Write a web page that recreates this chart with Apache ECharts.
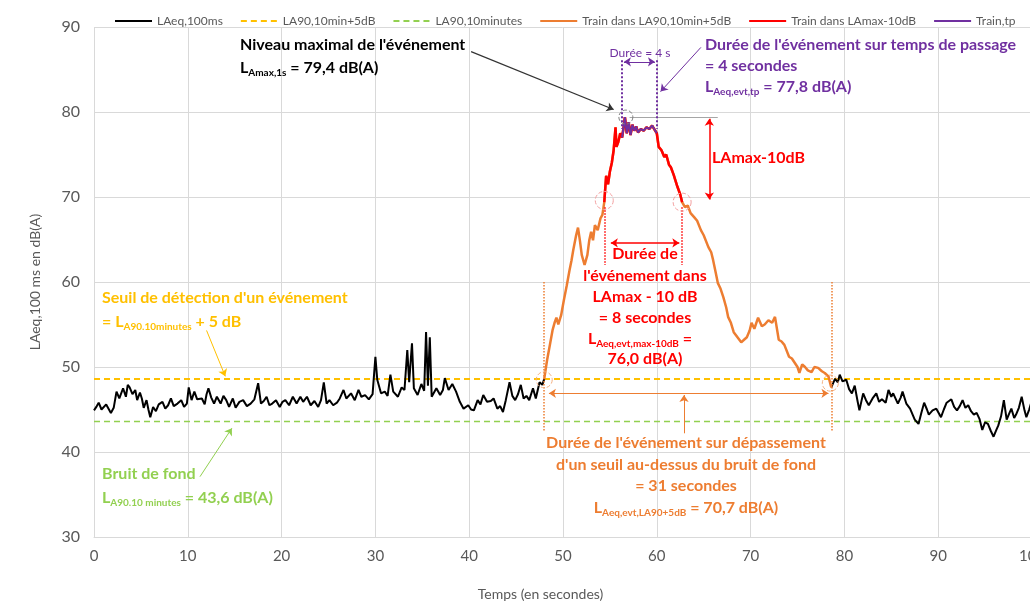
<!DOCTYPE html>
<html lang="fr">
<head>
<meta charset="UTF-8">
<title>Passage de train</title>
<style>
  html, body { margin: 0; padding: 0; background: #fff; }
  #main { width: 1030px; height: 603px; }
</style>
</head>
<body>
<div id="main"></div>
<script src="https://cdn.jsdelivr.net/npm/echarts@6/dist/echarts.min.js"></script>
<script>
// niveaux LAeq,100ms : [temps (s), dB(A)]
const fondAvant = [
  [0,44.9],[0.3,45.4],[0.5,45.8],[0.8,45.0],[1.0,44.9],[1.3,45.6],[1.5,45.5],[1.8,44.6],[2.1,45.2],[2.4,47.1],
  [2.7,46.3],[3.1,47.5],[3.4,46.5],[3.6,47.9],[3.8,47.6],[4.1,46.8],[4.4,47.3],[4.6,46.1],[4.9,47.0],[5.1,46.3],
  [5.3,45.2],[5.6,46.1],[5.8,45.0],[6.0,44.1],[6.3,45.3],[6.6,44.8],[6.9,45.6],[7.3,45.9],[7.6,45.1],[7.9,45.5],
  [8.2,46.3],[8.5,45.4],[8.9,45.7],[9.3,46.1],[9.6,45.3],[9.9,45.7],[10.1,47.6],[10.4,46.1],[10.7,47.1],[11.0,46.2],
  [11.5,46.3],[11.8,45.6],[12.0,46.8],[12.2,47.5],[12.5,46.4],[12.8,45.7],[13.1,46.5],[13.5,45.7],[13.8,46.6],[14.1,46.1],
  [14.4,45.3],[14.8,46.3],[15.1,45.2],[15.5,45.9],[15.9,46.1],[16.3,45.4],[16.7,45.7],[17.1,46.2],[17.5,48.1],[17.8,45.7],
  [18.1,46.0],[18.4,46.5],[18.7,45.5],[19.0,45.7],[19.4,46.1],[19.8,45.3],[20.1,45.9],[20.4,46.1],[20.8,45.5],[21.2,46.5],
  [21.6,45.7],[22.0,46.5],[22.3,45.9],[22.7,46.5],[23.1,45.5],[23.5,46.0],[23.9,45.3],[24.2,46.1],[24.5,48.2],[24.8,45.7],
  [25.1,46.1],[25.5,45.5],[25.9,45.8],[26.2,46.3],[26.6,47.3],[26.9,46.3],[27.1,46.5],[27.4,46.9],[27.8,46.1],[28.2,47.3],
  [28.5,46.5],[28.9,46.7],[29.3,46.2],[29.7,46.8],[30.0,51.2],[30.2,48.5],[30.6,46.9],[31.0,47.1],[31.3,46.6],[31.6,49.1],
  [31.9,47.1],[32.4,46.5],[32.8,47.6],[33.1,47.3],[33.4,52.0],[33.6,48.2],[33.9,52.8],[34.1,47.5],[34.5,46.7],[34.9,48.0],
  [35.2,47.2],[35.4,54.1],[35.6,47.8],[35.8,53.5],[36.0,46.5],[36.5,47.5],[36.9,46.7],[37.2,47.3],[37.4,48.7],[37.8,47.3],
  [38.2,48.0],[38.6,47.1],[39.0,45.9],[39.4,45.1],[39.9,45.5],[40.2,45.0],[40.5,44.9],[40.9,46.1],[41.2,45.6],[41.5,46.7],
  [41.9,45.9],[42.3,46.0],[42.6,46.3],[43.0,45.1],[43.3,45.4],[43.6,44.7],[43.9,46.1],[44.3,48.2],[44.6,46.6],[44.9,46.1],
  [45.2,46.8],[45.5,47.9],[45.8,46.3],[46.1,46.6],[46.4,46.1],[46.8,47.5],[47.1,46.3],[47.5,48.2],[47.8,47.9],[48.0,48.6]
];

const evenement = [
  [48.0,48.6],[48.3,50.8],[48.6,52.6],[48.9,54.4],[49.1,55.2],[49.3,55.8],[49.5,55.0],[49.8,56.1],[50.1,57.9],[50.4,59.6],
  [50.7,61.4],[50.9,62.5],[51.1,63.8],[51.4,65.5],[51.6,66.4],[51.8,64.9],[52.0,63.2],[52.3,62.0],[52.6,63.2],[52.8,64.9],
  [53.0,65.9],[53.2,64.9],[53.4,66.7],[53.7,66.1],[54.0,67.5],[54.2,67.9],[54.4,69.4],[54.6,72.5],[54.8,71.5],[55.0,73.0],
  [55.2,74.0],[55.4,75.5],[55.6,78.2],[55.7,75.9],[55.9,76.5],[56.1,77.5],[56.3,77.0],[56.5,78.5],[56.6,79.4],[56.8,77.5],
  [57.0,78.8],[57.2,77.3],[57.4,78.5],[57.6,77.8],[57.8,78.3],[58.0,77.6],[58.3,78.0],[58.6,77.8],[58.9,78.2],[59.2,78.0],
  [59.5,78.4],[59.7,78.6],[60.0,77.5],[60.2,75.9],[60.5,75.5],[60.8,74.7],[61.0,75.0],[61.3,73.8],[61.5,73.5],[61.8,72.6],
  [62.0,72.8],[62.2,71.2],[62.5,70.3],[62.7,69.4],[63.0,68.8],[63.3,69.0],[63.6,68.1],[64.0,67.6],[64.3,67.2],[64.7,66.1],
  [65.0,65.5],[65.5,64.1],[65.8,63.5],[66.0,62.6],[66.3,61.0],[66.5,59.9],[66.8,59.2],[67.1,58.2],[67.4,57.0],[67.6,55.9],
  [67.9,55.2],[68.2,54.1],[68.6,53.5],[69.0,52.9],[69.3,53.2],[69.6,53.5],[69.9,54.3],[70.1,55.2],[70.4,54.5],[70.8,55.8],
  [71.2,54.8],[71.5,55.0],[71.9,55.5],[72.3,55.2],[72.6,55.9],[73.0,53.2],[73.3,53.0],[73.6,52.6],[74.1,51.2],[74.4,51.0],
  [74.7,50.5],[75.0,50.0],[75.2,49.3],[75.5,50.3],[75.8,50.0],[76.1,49.6],[76.5,49.4],[76.8,50.0],[77.2,49.9],[77.6,49.5],
  [77.9,49.3],[78.3,48.9],[78.6,47.6]
];

const fondApres = [
  [78.6,47.6],[79.0,48.6],[79.3,48.2],[79.5,49.1],[79.8,48.3],[80.2,48.5],[80.5,47.4],[80.8,46.9],[81.1,47.8],[81.4,46.0],
  [81.6,44.9],[82.0,46.9],[82.3,46.1],[82.6,45.5],[83.0,46.3],[83.4,46.9],[83.7,45.9],[84.0,46.2],[84.4,45.8],[84.7,47.3],
  [85.0,46.5],[85.2,46.9],[85.7,45.7],[86.0,46.4],[86.2,47.1],[86.6,45.7],[87.0,45.1],[87.5,43.8],[87.9,43.3],[88.2,44.6],
  [88.5,45.8],[88.8,45.0],[89.0,44.4],[89.4,44.9],[89.8,45.1],[90.3,44.1],[90.6,45.0],[90.9,45.8],[91.4,46.2],[91.7,45.3],
  [92.0,44.9],[92.3,45.4],[92.6,46.1],[92.9,45.2],[93.2,45.5],[93.5,44.8],[93.8,44.4],[94.1,44.6],[94.4,43.9],[94.7,42.6],
  [95.0,43.5],[95.3,43.3],[95.6,42.5],[95.9,41.8],[96.2,42.6],[96.4,43.1],[96.7,44.2],[97.0,46.1],[97.3,43.8],[97.6,44.6],
  [97.8,45.1],[98.1,44.0],[98.3,44.4],[98.6,45.2],[98.9,46.5],[99.2,44.9],[99.4,44.1],[99.7,45.0],[100,46.1]
];

// indicateurs
const LA90 = 43.6;
const seuil = LA90 + 5;
const LAmax = 79.4;
const debutEvt = 48.0, finEvt = 78.6;   // dépassement du seuil (31 s)
const debutMax = 54.4, finMax = 62.7;   // LAmax - 10 dB (8 s)
const debutTp = 56.3, finTp = 60.0;     // temps de passage (4 s)

const trainMax = evenement.filter(p => p[0] >= debutMax && p[0] <= finMax);
const trainTp = evenement.filter(p => p[0] >= debutTp && p[0] <= finTp);

const NOIR = '#000000', JAUNE = '#FFC000', VERT = '#92D050',
      ORANGE = '#ED7D31', ROUGE = '#FF0000', VIOLET = '#7030A0', GRIS = '#595959';

const myChart = echarts.init(document.getElementById('main'));

// segment d'annotation (flèche ou pointillé) en coordonnées de données
function trait(a, b, color, type, fleche, width) {
  return [
    { coord: a, symbol: fleche === 'both' ? 'arrow' : 'none', lineStyle: { color: color, type: type, width: width || 1 } },
    { coord: b, symbol: fleche ? 'arrow' : 'none' }
  ];
}
function cercle(c, color, size) {
  return { coord: c, symbol: 'circle', symbolSize: size,
    itemStyle: { color: 'rgba(0,0,0,0)', borderColor: color, borderWidth: 1, borderType: 'dashed' } };
}
function marqueurs(lignes, cercles) {
  return {
    markLine: { silent: true, animation: false, symbolSize: 7, label: { show: false }, emphasis: { disabled: true }, data: lignes },
    markPoint: { silent: true, animation: false, label: { show: false }, data: cercles || [] }
  };
}

// texte avec indices : {b|...}{s|...}
function note(x, y, str, color, size, align, weight) {
  size = size || 16;
  weight = weight || 'bold';
  const sub = Math.round(size * 0.62);
  return {
    type: 'text', x: x, y: y, z: 100, silent: true,
    style: {
      text: str, fill: color, fontFamily: 'Lato', fontSize: size, fontWeight: weight,
      textAlign: align || 'left', align: align || 'left',
      textVerticalAlign: 'middle', verticalAlign: 'middle',
      rich: {
        b: { fill: color, fontFamily: 'Lato', fontSize: size, fontWeight: weight, lineHeight: size + 4 },
        s: { fill: color, fontFamily: 'Lato', fontSize: sub, fontWeight: weight, lineHeight: size + 4,
             verticalAlign: 'bottom', padding: [Math.round(size * 0.55), 0, 0, 0] }
      }
    }
  };
}

const option = {
  animation: false,
  backgroundColor: '#fff',
  textStyle: { fontFamily: 'Lato' },
  grid: { left: 94, right: -2, top: 27, bottom: 66, outerBoundsMode: 'none', containLabel: false },
  legend: {
    top: 10, left: 109, itemWidth: 37, itemHeight: 10, itemGap: 17,
    itemStyle: { opacity: 0 },
    textStyle: { fontSize: 12, color: GRIS, fontFamily: 'Lato' },
    data: ['LAeq,100ms', 'LA90,10min+5dB', 'LA90,10minutes', 'Train dans LA90,10min+5dB', 'Train dans LAmax-10dB', 'Train,tp']
  },
  xAxis: {
    type: 'value', min: 0, max: 100, interval: 10,
    name: 'Temps (en secondes)', nameLocation: 'middle', nameGap: 50,
    nameTextStyle: { fontSize: 14, color: GRIS, padding: [0, 45, 0, 0] },
    axisLine: { lineStyle: { color: '#D9D9D9' } },
    axisTick: { show: false },
    axisLabel: { fontSize: 15, color: GRIS, margin: 12 },
    splitLine: { lineStyle: { color: '#D9D9D9' } }
  },
  yAxis: {
    type: 'value', min: 30, max: 90, interval: 10,
    name: 'LAeq,100 ms en dB(A)', nameLocation: 'middle', nameGap: 52,
    nameTextStyle: { fontSize: 14, color: GRIS },
    axisLine: { show: false },
    axisTick: { show: false },
    axisLabel: { fontSize: 16, color: GRIS, margin: 14 },
    splitLine: { lineStyle: { color: '#D9D9D9' } }
  },
  series: [
    Object.assign({
      name: 'LA90,10minutes', type: 'line', symbol: 'none', silent: true,
      data: [[0, LA90], [100, LA90]],
      lineStyle: { color: VERT, width: 1.5, type: [6, 4] }, itemStyle: { color: VERT }
    }, marqueurs([
      trait([11.3, 37.1], [14.7, 42.8], VERT, 'solid', true)
    ])),
    Object.assign({
      name: 'LA90,10min+5dB', type: 'line', symbol: 'none', silent: true,
      data: [[0, seuil], [100, seuil]],
      lineStyle: { color: JAUNE, width: 2, type: [6, 4] }, itemStyle: { color: JAUNE }
    }, marqueurs([
      trait([12.0, 54.3], [14.0, 48.9], JAUNE, 'solid', true)
    ])),
    Object.assign({
      name: 'LAeq,100ms', type: 'line', symbol: 'none', silent: true, data: fondAvant,
      lineStyle: { color: NOIR, width: 2 }, itemStyle: { color: NOIR }
    }, marqueurs([
      trait([40.2, 87.1], [55.4, 80.3], '#333333', 'solid', true, 1.2),
      trait([57.1, LAmax], [66.5, LAmax], '#A6A6A6', 'solid', false)
    ], [cercle([56.7, LAmax], '#7F7F7F', 14)])),
    {
      name: 'LAeq,100ms', type: 'line', symbol: 'none', silent: true, data: fondApres,
      lineStyle: { color: NOIR, width: 2 }, itemStyle: { color: NOIR }
    },
    Object.assign({
      name: 'Train dans LA90,10min+5dB', type: 'line', symbol: 'none', silent: true, data: evenement,
      lineStyle: { color: ORANGE, width: 2.5 }, itemStyle: { color: ORANGE }
    }, marqueurs([
      trait([debutEvt, 60.0], [debutEvt, 42.4], ORANGE, 'dotted', false, 1.5),
      trait([finEvt, 60.0], [finEvt, 42.4], ORANGE, 'dotted', false, 1.5),
      trait([48.5, 46.9], [78.3, 46.9], ORANGE, 'solid', 'both'),
      trait([62.9, 42.2], [62.9, 46.7], ORANGE, 'solid', true)
    ], [cercle([48.0, 48.5], '#F4B183', 16), cercle([78.5, 48.1], '#F4B183', 16)])),
    Object.assign({
      name: 'Train dans LAmax-10dB', type: 'line', symbol: 'none', silent: true, data: trainMax,
      lineStyle: { color: ROUGE, width: 2.5 }, itemStyle: { color: ROUGE }
    }, marqueurs([
      trait([debutMax, 68.8], [debutMax, 62.0], ROUGE, 'dotted', false, 1.5),
      trait([finMax, 68.8], [finMax, 62.0], ROUGE, 'dotted', false, 1.5),
      trait([55.1, 64.6], [62.4, 64.6], ROUGE, 'solid', 'both', 1.5),
      trait([65.6, 79.2], [65.6, 69.7], ROUGE, 'solid', 'both', 1.5)
    ], [cercle([debutMax, 69.6], '#F4A0A0', 18), cercle([finMax, 69.4], '#F4A0A0', 18)])),
    Object.assign({
      name: 'Train,tp', type: 'line', symbol: 'none', silent: true, data: trainTp,
      lineStyle: { color: VIOLET, width: 2 }, itemStyle: { color: VIOLET }
    }, marqueurs([
      trait([debutTp, 86.1], [debutTp, 78.0], VIOLET, 'dotted', false, 2),
      trait([finTp, 86.1], [finTp, 78.0], VIOLET, 'dotted', false, 2),
      trait([56.5, 85.9], [59.8, 85.9], VIOLET, 'solid', 'both'),
      trait([64.7, 87.6], [60.4, 82.4], VIOLET, 'solid', true)
    ]))
  ],
  graphic: [
    note(240, 45, "Niveau maximal de l'événement", NOIR),
    note(240, 68, '{b|L}{s|Amax,1s}{b| = 79,4 dB(A)}', NOIR),
    note(640, 53, 'Durée = 4 s', VIOLET, 12, 'center', 'normal'),
    note(705, 45, "Durée de l'événement sur temps de passage", VIOLET),
    note(705, 66, '= 4 secondes', VIOLET),
    note(705, 87, '{b|L}{s|Aeq,evt,tp}{b| = 77,8 dB(A)}', VIOLET),
    note(712, 158, 'LAmax-10dB', ROUGE),
    note(645, 254, 'Durée de', ROUGE, 16, 'center'),
    note(645, 276, "l'événement dans", ROUGE, 16, 'center'),
    note(645, 297, 'LAmax - 10 dB', ROUGE, 16, 'center'),
    note(645, 318, '= 8 secondes', ROUGE, 16, 'center'),
    note(640, 339, '{b|L}{s|Aeq,evt,max-10dB}{b| =}', ROUGE, 16, 'center'),
    note(645, 359, '76,0 dB(A)', ROUGE, 16, 'center'),
    note(686, 443, "Durée de l'événement sur dépassement", ORANGE, 16, 'center'),
    note(686, 465, "d'un seuil au-dessus du bruit de fond", ORANGE, 16, 'center'),
    note(686, 486, '= 31 secondes', ORANGE, 16, 'center'),
    note(686, 508, '{b|L}{s|Aeq,evt,LA90+5dB}{b| = 70,7 dB(A)}', ORANGE, 16, 'center'),
    note(102, 298, "Seuil de détection d'un événement", JAUNE),
    note(102, 322, '{b|= L}{s|A90.10minutes}{b| + 5 dB}', JAUNE),
    note(102, 474, 'Bruit de fond', VERT),
    note(102, 498, '{b|L}{s|A90.10 minutes}{b| = 43,6 dB(A)}', VERT)
  ]
};

myChart.setOption(option);
</script>
</body>
</html>
